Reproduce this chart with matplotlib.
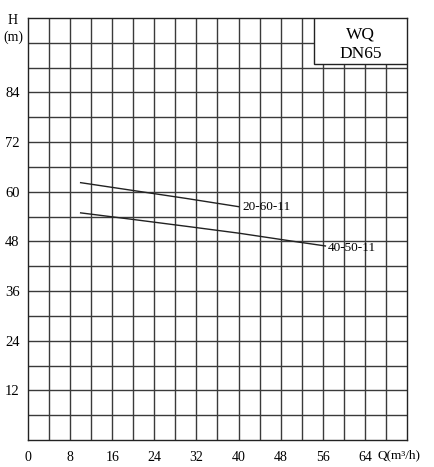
import matplotlib
matplotlib.use("Agg")
import matplotlib.pyplot as plt
from matplotlib.patches import Rectangle

plt.rcParams['font.family'] = ['Liberation Serif', 'DejaVu Serif']

# data
q1 = [10, 20, 30, 40]
h1 = [62.2, 60.3, 58.4, 56.4]
name1 = "20-60-11"
q2 = [10, 20, 31, 40, 50, 56.5]
h2 = [54.9, 53.3, 51.5, 50.0, 48.1, 46.9]
name2 = "40-50-11"
xticks = [0, 8, 16, 24, 32, 40, 48, 56, 64]
yticks = [12, 24, 36, 48, 60, 72, 84]
title_lines = ["WQ", "DN65"]

fig = plt.figure(figsize=(4.34, 4.67), dpi=100)
ax = fig.add_axes([28/434, 1-440/467, (407-28)/434, (440-18)/467])
ax.set_xlim(0, 72)
ax.set_ylim(0, 102)

gc = '#3a3a3a'
for x in range(4, 72, 4):
    ax.axvline(x, color=gc, lw=1.0, zorder=1)
for y in range(6, 102, 6):
    ax.axhline(y, color=gc, lw=1.0, zorder=1)
for s in ax.spines.values():
    s.set_color('#222')
    s.set_linewidth(1.0)

ax.plot(q1, h1, color='#222', lw=1.0, zorder=3)
ax.plot(q2, h2, color='#222', lw=1.0, zorder=3)
ax.text(40.7, 56.4, name1, fontsize=9.5, va='center', ha='left', zorder=4)
ax.text(57.0, 46.3, name2, fontsize=9.5, va='center', ha='left', zorder=4)

# title box
ax.add_patch(Rectangle((54.3, 90.9), 72-54.3, 102-90.9, facecolor='white',
                       edgecolor='#222', lw=1.0, zorder=5))
ax.text(63.2, 98.0, title_lines[0], fontsize=12.5, ha='center', va='center', zorder=6)
ax.text(63.2, 93.4, title_lines[1], fontsize=12.5, ha='center', va='center', zorder=6)

ax.set_xticks(xticks)
ax.set_xticklabels([str(v) for v in xticks], fontsize=10)
ax.set_yticks(yticks)
ax.set_yticklabels([str(v) for v in yticks], fontsize=10.5)
ax.tick_params(axis='y', length=0, pad=6)
ax.tick_params(axis='x', length=0, pad=8)

fig.text(13/434, 1-21/467, "H", fontsize=10, ha='center', va='center')
fig.text(13/434, 1-37/467, "(m)", fontsize=10, ha='center', va='center')
fig.text(399/434, 1-455/467, "Q(m\u00b3/h)", fontsize=9.5, ha='center', va='center')

fig.savefig("out.png", dpi=100)
